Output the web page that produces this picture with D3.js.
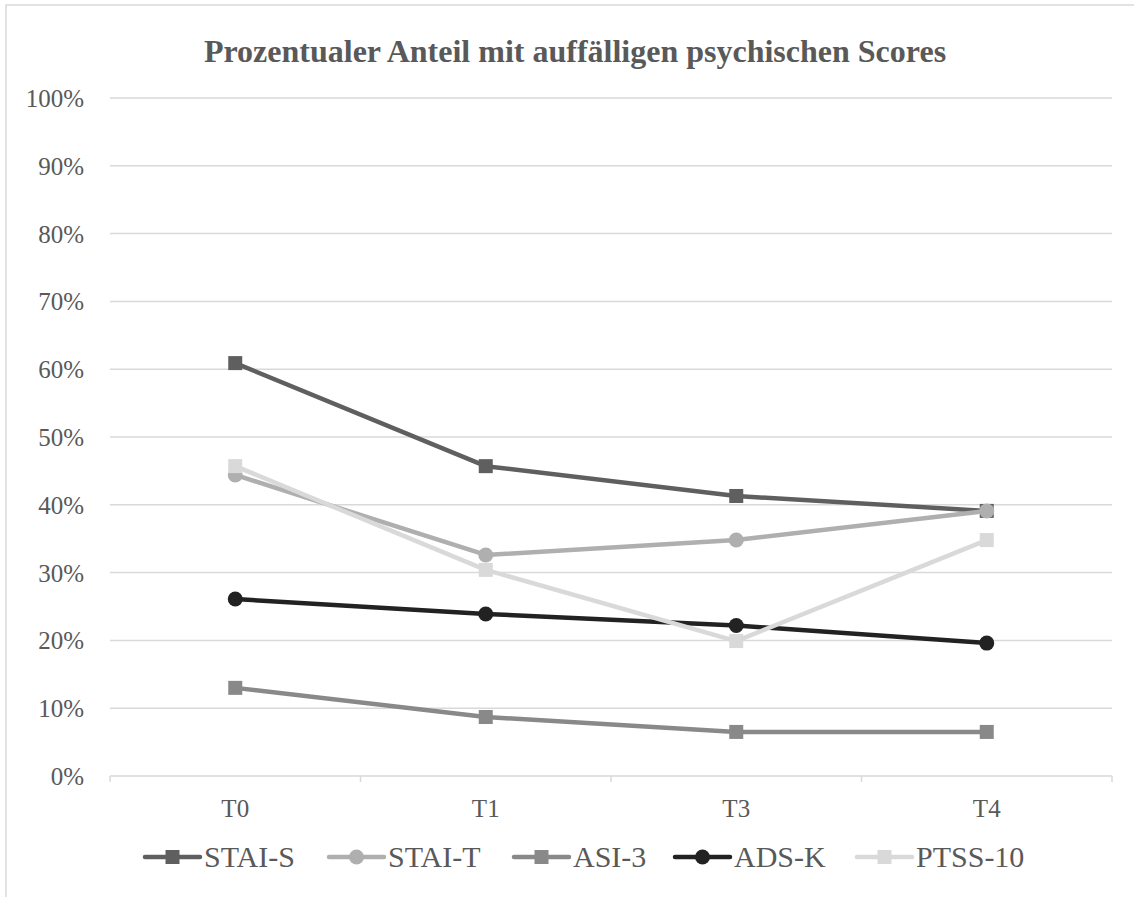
<!DOCTYPE html>
<html>
<head>
<meta charset="utf-8">
<title>Prozentualer Anteil mit auffälligen psychischen Scores</title>
<script src="https://cdn.jsdelivr.net/npm/d3@7"></script>
<style>
body { margin: 0; background: #fff; }
text { font-family: "Liberation Serif", "Times New Roman", serif; fill: #595959; }
</style>
</head>
<body>
<svg id="chart" width="1134" height="897"></svg>
<script>
// categories and values (share of participants, in percent)
var timepoints = ["T0", "T1", "T3", "T4"];
var staiS = [60.9, 45.7, 41.3, 39.1];
var staiT = [44.4, 32.6, 34.8, 39.1];
var asi3  = [13.0, 8.7, 6.5, 6.5];
var adsK  = [26.1, 23.9, 22.2, 19.6];
var ptss  = [45.7, 30.4, 19.9, 34.8];
var yTicks = [0, 10, 20, 30, 40, 50, 60, 70, 80, 90, 100];

var series = [
  {name: "STAI-S",  values: staiS, color: "#5f5f5f", shape: "square"},
  {name: "STAI-T",  values: staiT, color: "#afafaf", shape: "circle"},
  {name: "ASI-3",   values: asi3,  color: "#898989", shape: "square"},
  {name: "ADS-K",   values: adsK,  color: "#222222", shape: "circle"},
  {name: "PTSS-10", values: ptss,  color: "#d9d9d9", shape: "square"}
];

var svg = d3.select("#chart");

// outer chart border (cut off on the right and bottom like in the source)
svg.append("rect")
  .attr("x", 6).attr("y", 5).attr("width", 1140).attr("height", 900)
  .attr("fill", "none").attr("stroke", "#d9d9d9").attr("stroke-width", 1.5);

var plotLeft = 110, plotRight = 1112, plotTop = 98, plotBottom = 776;

var x = d3.scaleBand().domain(timepoints).range([plotLeft, plotRight]);
var y = d3.scaleLinear().domain([0, 100]).range([plotBottom, plotTop]);

// title
svg.append("text")
  .attr("x", 575).attr("y", 62)
  .attr("text-anchor", "middle")
  .style("font-size", "32px").style("font-weight", "bold")
  .text("Prozentualer Anteil mit auffälligen psychischen Scores");

// gridlines
svg.append("g")
  .selectAll("line")
  .data(yTicks.filter(function(d) { return d > 0; }))
  .enter().append("line")
  .attr("x1", plotLeft).attr("x2", plotRight)
  .attr("y1", function(d) { return y(d); })
  .attr("y2", function(d) { return y(d); })
  .attr("stroke", "#d9d9d9").attr("stroke-width", 1.5);

// y labels
svg.append("g")
  .selectAll("text")
  .data(yTicks)
  .enter().append("text")
  .attr("x", 84)
  .attr("y", function(d) { return y(d) + 9; })
  .attr("text-anchor", "end")
  .style("font-size", "25px")
  .text(function(d) { return d + "%"; });

// category axis
svg.append("line")
  .attr("x1", plotLeft).attr("x2", plotRight)
  .attr("y1", plotBottom).attr("y2", plotBottom)
  .attr("stroke", "#d9d9d9").attr("stroke-width", 1.5);

var bounds = timepoints.map(function(t) { return x(t); }).concat([plotRight]);
svg.append("g")
  .selectAll("line")
  .data(bounds)
  .enter().append("line")
  .attr("x1", function(d) { return d; }).attr("x2", function(d) { return d; })
  .attr("y1", plotBottom).attr("y2", plotBottom + 6)
  .attr("stroke", "#d9d9d9").attr("stroke-width", 1.5);

svg.append("g")
  .selectAll("text")
  .data(timepoints)
  .enter().append("text")
  .attr("x", function(d) { return x(d) + x.bandwidth() / 2; })
  .attr("y", 817)
  .attr("text-anchor", "middle")
  .style("font-size", "25px")
  .text(function(d) { return d; });

// lines and markers
var line = d3.line()
  .x(function(d, i) { return x(timepoints[i]) + x.bandwidth() / 2; })
  .y(function(d) { return y(d); });

function marker(g, s, cx, cy) {
  if (s.shape === "square") {
    g.append("rect")
      .attr("x", cx - 7).attr("y", cy - 7)
      .attr("width", 14).attr("height", 14)
      .attr("fill", s.color);
  } else {
    g.append("circle")
      .attr("cx", cx).attr("cy", cy).attr("r", 7.5)
      .attr("fill", s.color);
  }
}

series.forEach(function(s) {
  var g = svg.append("g");
  g.append("path")
    .datum(s.values)
    .attr("d", line)
    .attr("fill", "none")
    .attr("stroke", s.color)
    .attr("stroke-width", 4.5)
    .attr("stroke-linejoin", "round");
  s.values.forEach(function(v, i) {
    marker(g, s, x(timepoints[i]) + x.bandwidth() / 2, y(v));
  });
});

// legend
var legendX = [145, 329, 514, 675, 857];
var legendY = 857;
series.forEach(function(s, i) {
  var g = svg.append("g");
  g.append("line")
    .attr("x1", legendX[i]).attr("x2", legendX[i] + 55)
    .attr("y1", legendY).attr("y2", legendY)
    .attr("stroke", s.color).attr("stroke-width", 4.5)
    .attr("stroke-linecap", "round");
  marker(g, s, legendX[i] + 27.5, legendY);
  g.append("text")
    .attr("x", legendX[i] + 59)
    .attr("y", legendY + 10)
    .style("font-size", "30px")
    .text(s.name);
});
</script>
</body>
</html>
